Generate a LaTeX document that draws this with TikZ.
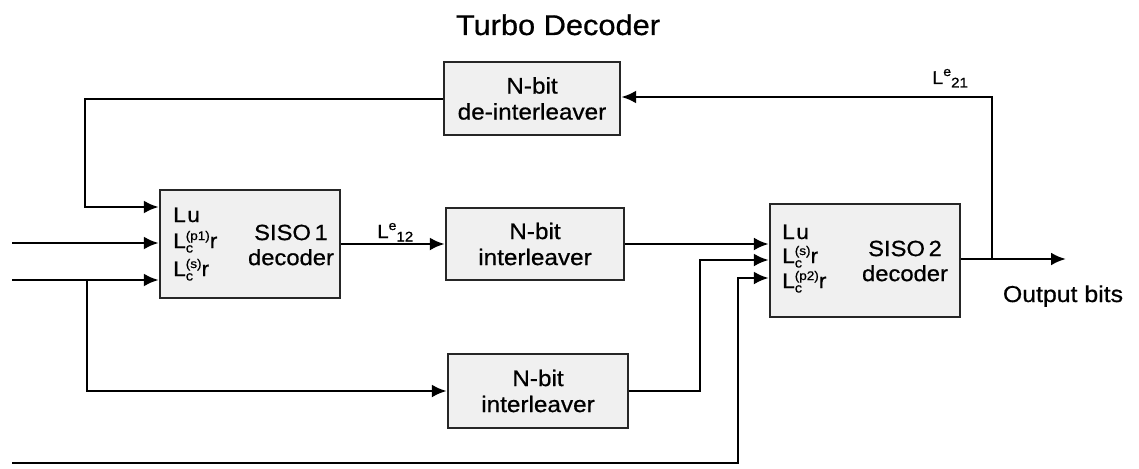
\documentclass[tikz,border=0pt]{standalone}
\usepackage{fontspec}
\setmainfont{Liberation Sans}[FakeStretch=1.08,FakeBold=0.7]
\usetikzlibrary{arrows.meta}
\tikzset{
  blk/.style={draw=black!85, line width=2.3pt, fill=gray!12, inner sep=0pt,
    font=\fontsize{22.5}{26}\selectfont, align=center},
  wire/.style={line width=2.9pt, black},
  arr/.style={wire, -{Latex[length=15pt,width=13pt]}},
  dtxt/.style={font=\fontsize{22}{25}\selectfont, align=center, inner sep=0pt},
  lbl/.style={font=\fontsize{21}{21}\selectfont, inner sep=0pt, anchor=base west},
  elbl/.style={inner sep=0pt, anchor=base west},
}
\newcommand\Lsub[2]{L\rlap{\raisebox{-4.5pt}{\fontsize{13.5}{13.5}\selectfont #1}}\raisebox{8pt}{\fontsize{12.5}{12.5}\selectfont #2}}
\newcommand\Lext[1]{L\raisebox{8pt}{\fontsize{13}{13}\selectfont e}\raisebox{-3.5pt}{\fontsize{14}{14}\selectfont #1}}
\begin{document}
\begin{tikzpicture}[x=1pt,y=-1pt]
\useasboundingbox (0,0) rectangle (1139,468);
% title
\node[font=\fontsize{28.5}{30}\selectfont, anchor=base, inner sep=0pt] (title) at (558,35) {Turbo Decoder};
% blocks
\node[blk, minimum width=176pt, minimum height=73pt] (deint) at (532,98.5) {N-bit\\de-interleaver};
\node[blk, minimum width=180pt, minimum height=108pt] (siso1) at (250,244) {};
\node[blk, minimum width=178pt, minimum height=72pt] (mint) at (535,244) {N-bit\\interleaver};
\node[blk, minimum width=180pt, minimum height=74pt] (bint) at (538,391) {N-bit\\interleaver};
\node[blk, minimum width=190pt, minimum height=113pt] (siso2) at (865,260.5) {};
% texts inside SISO blocks
\node[dtxt] (s1t) at (291,245) {SISO\,1\\decoder};
\node[lbl] (s1a) at (173,222) {L\kern1.5pt u};
\node[lbl] (s1b) at (173,248) {\Lsub{c}{(p1)}r};
\node[lbl] (s1c) at (173,276) {\Lsub{c}{(s)}r};
\node[dtxt] (s2t) at (905,261) {SISO\,2\\decoder};
\node[lbl] (s2a) at (782,239) {L\kern1.5pt u};
\node[lbl] (s2b) at (782,263) {\Lsub{c}{(s)}r};
\node[lbl] (s2c) at (782,288) {\Lsub{c}{(p2)}r};
% edge labels
\node[elbl, font=\fontsize{19}{19}\selectfont] (le12) at (377,238) {\Lext{12}};
\node[elbl, font=\fontsize{18.5}{19}\selectfont] (le21) at (932,84) {\Lext{21}};
\node[font=\fontsize{23}{23}\selectfont, anchor=base, inner sep=0pt] (outb) at (1063,302) {Output bits};
% coordinates
\coordinate (outend) at (1066,259);
\coordinate (fb) at (992,259);
\coordinate (fbtop) at (992,97);
\coordinate (lk) at (85,99);
\coordinate (lu1) at (160,207);
\coordinate (in1) at (12,243);
\coordinate (in2) at (12,280);
\coordinate (br) at (87,280);
\coordinate (bx) at (700,260);
\coordinate (in3) at (12,463);
\coordinate (bc) at (738,278);
% connectors
\draw[arr] (siso2.east |- outend) -- (outend);
\draw[arr] (fb) -- (fbtop) -- (deint.east |- fbtop);
\draw[arr] (deint.west |- lk) -- (lk) |- (siso1.west |- lu1);
\draw[arr] (in1) -- (siso1.west |- in1);
\draw[arr] (in2) -- (siso1.west |- in2);
\draw[arr] (br) |- (bint.west);
\draw[arr] (siso1.east) -- (mint.west);
\draw[arr] (mint.east) -- (siso2.west |- mint.east);
\draw[arr] (bint.east) -| (bx) -- (siso2.west |- bx);
\draw[arr] (in3) -| (bc) -- (siso2.west |- bc);
\end{tikzpicture}
\end{document}
